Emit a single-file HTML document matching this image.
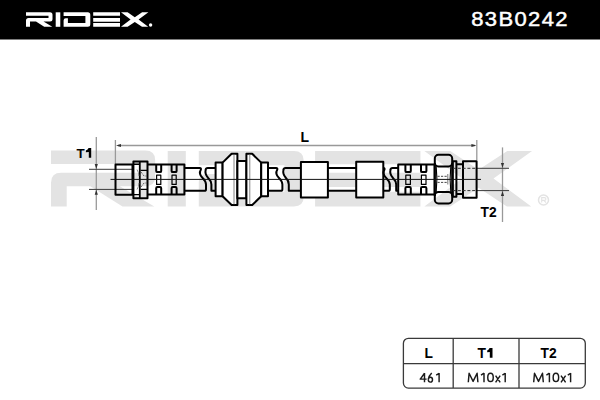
<!DOCTYPE html>
<html><head><meta charset="utf-8">
<style>
html,body{margin:0;padding:0;background:#fff;width:600px;height:400px;overflow:hidden}
svg{display:block}
text{font-family:"Liberation Sans",sans-serif}
</style></head>
<body>
<svg width="600" height="400" viewBox="0 0 600 400">
<defs>
<g id="logo">
<path d="M26,12.2 H50 Q52.5,12.2 52.5,14.7 V19 Q52.5,21.5 50,21.5 H43.5 L52.3,26.8 H44.2 L36,21.5 H30 V26.8 H26 V20.6 Q26,18 28.6,18 H48.5 V15.7 H26 Z"/>
<path d="M55.7,12.3 H60.3 V26.8 H55.7 Z"/>
<path d="M63.6,12.3 H87.8 Q90.3,12.3 90.3,14.8 V24.3 Q90.3,26.8 87.8,26.8 H63.6 V20.5 Q63.6,18.3 65.8,18.3 H67.9 V23 H85.4 V16 H63.6 Z"/>
<path d="M93.2,12.3 H120 V15.8 H93.2 Z M93.2,18 H120 V21.7 H93.2 Z M93.2,23 H120 V26.8 H93.2 Z"/>
<path d="M121,12.3 H127.6 L134.8,17.2 L142.1,12.3 H148.4 L138.6,19.5 L148.2,26.8 H142 L134.8,21.9 L127.6,26.8 H121 L130.6,19.5 Z"/>
</g>
</defs>
<!-- header -->
<rect x="0" y="0" width="600" height="39.5" fill="#000"/>
<use href="#logo" fill="#fff"/>
<circle cx="150.6" cy="25" r="1.7" fill="#fff"/>
<text transform="translate(471.2,0) scale(1.13,1)" x="0" y="26.35" font-size="19.5" fill="#fff" stroke="#fff" stroke-width="0.45" letter-spacing="1.2">83B0242</text>

<!-- watermark -->
<g transform="translate(51,151) scale(3.93,3.82) translate(-26,-12.3)" fill="#e3e3e3"><use href="#logo"/></g>
<circle cx="543.5" cy="200" r="5" fill="none" stroke="#e3e3e3" stroke-width="1.5"/>
<path d="M541.7,202.6 V197.6 H544.4 Q545.9,197.6 545.9,199 Q545.9,200.4 544.4,200.4 H541.7 M543.9,200.4 L546,202.6" fill="none" stroke="#e3e3e3" stroke-width="1.1"/>

<!-- dimension lines -->
<g stroke="#999" stroke-width="1.3" fill="none">
<line x1="118" y1="145.5" x2="475" y2="145.5"/>
<line x1="115.4" y1="140" x2="115.4" y2="164"/>
<line x1="476.8" y1="140" x2="476.8" y2="160"/>
<line x1="96.3" y1="137" x2="96.3" y2="210"/>
<line x1="502.5" y1="147.4" x2="502.5" y2="222"/>
</g>
<g stroke="#3a3a3a" stroke-width="1" fill="none">
<line x1="89" y1="169.3" x2="132" y2="169.3"/>
<line x1="89" y1="189.4" x2="132" y2="189.4"/>
<line x1="477" y1="168.3" x2="509" y2="168.3"/>
<line x1="477" y1="190.6" x2="509" y2="190.6"/>
</g>
<g fill="#333">
<path d="M116,145.5 L121,143.9 L121,147.1 Z"/>
<path d="M476.4,145.5 L471.4,143.9 L471.4,147.1 Z"/>
<path d="M96.3,169 L94.7,164 L97.9,164 Z"/>
<path d="M96.3,189.7 L94.7,194.7 L97.9,194.7 Z"/>
<path d="M502.5,168 L500.9,163 L504.1,163 Z"/>
<path d="M502.5,190.9 L500.9,195.9 L504.1,195.9 Z"/>
</g>
<text x="300.5" y="141.7" font-size="14" font-weight="bold" fill="#000">L</text>
<text x="76.6" y="157.8" font-size="13.4" font-weight="bold" fill="#000">T</text><path d="M88.60,148.10 H91.20 V157.80 H88.80 V152.10 L85.90,152.20 V150.40 Q87.90,149.70 88.60,148.10 Z" fill="#000"/>
<text x="480.6" y="217.2" font-size="13.8" font-weight="bold" fill="#000">T2</text>
<g stroke="#000" stroke-width="2" fill="none" stroke-linejoin="round">
<rect x="115.5" y="164.5" width="17" height="30.2"/>
<path d="M140.6,161.4 H147.2 V170.2 H140.6 Z M140.6,189.4 H147.2 V197.3 H140.6 Z" fill="#e3e3e3" stroke="none"/>
<rect x="133.4" y="161.4" width="14.1" height="36.9"/>
<line x1="139.8" y1="161.4" x2="139.8" y2="198.3" stroke-width="1.8"/>
<path d="M133.4,164.2 H139 M133.4,194.6 H139" stroke-width="1.4"/>
<path d="M140.6,170.3 H147 M140.6,189.3 H147" stroke-width="1.3"/>
<path d="M137,169.5 Q138.8,172 138.8,176 M137,189.5 Q138.8,187 138.8,183" stroke="#888" stroke-width="0.9"/>
<path d="M141,172 L144,176 H147 M141,187 L144,183 H147" stroke="#555" stroke-width="0.9" stroke-dasharray="2,1.2"/>
<path d="M147.2,164.5 H184.4 V194.6 H147.2"/>
<path d="M156.2,164.5 V170.9 Q156.2,172.1 157.39999999999998,172.1 H160.0 Q161.2,172.1 161.2,170.9 V164.5" stroke-width="2"/>
<path d="M156.2,194.6 V188.2 Q156.2,187.0 157.39999999999998,187.0 H160.0 Q161.2,187.0 161.2,188.2 V194.6" stroke-width="2"/>
<rect x="156.6" y="175.2" width="4.2" height="9.2" stroke-width="1.2"/>
<path d="M171.6,164.5 V170.9 Q171.6,172.1 172.79999999999998,172.1 H175.4 Q176.6,172.1 176.6,170.9 V164.5" stroke-width="2"/>
<path d="M171.6,194.6 V188.2 Q171.6,187.0 172.79999999999998,187.0 H175.4 Q176.6,187.0 176.6,188.2 V194.6" stroke-width="2"/>
<rect x="172.0" y="175.2" width="4.2" height="9.2" stroke-width="1.2"/>
<path d="M184.4,168.0 H199.80 Q201.20,168.0 200.90,169.60 C199.40,172.20 199.60,175.20 202.60,178.00 C205.20,180.60 206.00,181.60 206.00,184.50 V189.20 Q206.00,190.8 204.40,190.8 H184.4"/>
<path d="M215.3,168.0 H207.80 Q205.80,168.0 205.70,169.80 C205.00,172.40 205.80,175.40 208.20,178.00 C210.80,180.60 211.40,181.60 211.40,184.50 V190.8 H215.3"/>
<path d="M215.6,162.6 H222.6 V196.2 H215.6 Z" fill="#fff"/>
<path d="M222.6,162.6 L231.6,153.8 H237.4 V205 H231.6 L222.6,196.2 Z" fill="#fff"/>
<path d="M237.4,160.9 H246.4 V198.2 H237.4 Z" fill="#fff"/>
<path d="M255.4,162.6 L246.4,153.8 H252.2 V205 H246.4 Z" fill="none" stroke="none"/>
<path d="M246.4,153.8 H252.2 L261.2,162.6 V196.2 L252.2,205 H246.4 Z" fill="#fff"/>
<path d="M261.2,162.6 H268 V196.2 H261.2 Z" fill="#fff"/>
<path d="M234,154.5 V204.3 M249.8,154.5 V204.3" stroke="#777" stroke-width="0.9"/>
<path d="M268,168.0 H276.20 Q277.60,168.0 277.30,169.60 C275.80,172.20 276.00,175.20 279.00,178.00 C281.60,180.60 282.40,181.60 282.40,184.50 V189.20 Q282.40,190.8 280.80,190.8 H268"/>
<path d="M300.3,168.0 H285.60 Q283.60,168.0 283.50,169.80 C282.80,172.40 283.60,175.40 286.00,178.00 C288.60,180.60 288.80,181.60 288.80,184.50 V190.8 H300.3"/>
<rect x="300.9" y="162" width="27" height="35.4" fill="#fff"/>
<path d="M328,168 H356.2 M328,190.8 H356.2"/>
<rect x="356.2" y="161.8" width="27.1" height="35.6" fill="#fff"/>
<path d="M383.3,168.0 H383.40 Q384.80,168.0 384.50,169.60 C383.00,172.20 383.20,175.20 386.20,178.00 C388.80,180.60 389.80,181.60 389.80,184.50 V189.20 Q389.80,190.8 388.20,190.8 H383.3"/>
<path d="M398,168.0 H392.60 Q390.60,168.0 390.50,169.80 C389.80,172.40 390.60,175.40 393.00,178.00 C395.60,180.60 396.20,181.60 396.20,184.50 V190.8 H398"/>
<path d="M398.2,164.5 H434.6 V194.6 H398.2 Z"/>
<path d="M405.4,164.5 V170.9 Q405.4,172.1 406.59999999999997,172.1 H409.59999999999997 Q410.79999999999995,172.1 410.79999999999995,170.9 V164.5" stroke-width="2"/>
<path d="M405.4,194.6 V188.2 Q405.4,187.0 406.59999999999997,187.0 H409.59999999999997 Q410.79999999999995,187.0 410.79999999999995,188.2 V194.6" stroke-width="2"/>
<rect x="405.79999999999995" y="175.2" width="4.6000000000000005" height="9.2" stroke-width="1.2"/>
<path d="M421.0,164.5 V170.9 Q421.0,172.1 422.2,172.1 H425.2 Q426.4,172.1 426.4,170.9 V164.5" stroke-width="2"/>
<path d="M421.0,194.6 V188.2 Q421.0,187.0 422.2,187.0 H425.2 Q426.4,187.0 426.4,188.2 V194.6" stroke-width="2"/>
<rect x="421.4" y="175.2" width="4.6000000000000005" height="9.2" stroke-width="1.2"/>
<rect x="434.8" y="154.8" width="17.4" height="11.6" rx="3.6"/>
<path d="M434.8,163 V196 M452.2,163 V196"/>
<path d="M436.2,166.4 Q437.6,179.2 436.2,192 M450.8,166.4 Q449.4,179.2 450.8,192" stroke-width="1.1"/>
<rect x="434.8" y="192" width="17.4" height="11.4" rx="3.6"/>
<path d="M437.5,176.3 H447.6 M437.5,182.4 H447.6" stroke="#333" stroke-width="0.9" stroke-dasharray="2.2,1.3"/>
<path d="M447.8,174 V184.5" stroke="#555" stroke-width="0.8"/>
<rect x="452.8" y="161.2" width="3.6" height="35.6"/>
<path d="M452.6,161.2 V196.8" stroke-width="1"/>
<path d="M456.4,164.3 H462.5 M456.4,194 H462.5"/>
<rect x="463" y="161.2" width="13.6" height="36.6"/>
</g>
<path d="M453,168.3 H476 M453,190.6 H476" stroke="#333" stroke-width="1" stroke-dasharray="3,1.8"/>
<line x1="110.5" y1="179.4" x2="481" y2="179.4" stroke="#111" stroke-width="1"/>
<!-- table -->
<g fill="none" stroke="#3a3a3a" stroke-width="1.3">
<rect x="403.4" y="338.3" width="181.9" height="49.8" rx="5"/>
<line x1="403.4" y1="363.6" x2="585.3" y2="363.6"/>
<line x1="453.2" y1="338.3" x2="453.2" y2="388.1"/>
<line x1="519" y1="338.3" x2="519" y2="388.1"/>
</g>
<g fill="#000">
<text x="424.6" y="357.7" font-size="13.8" font-weight="bold">L</text>
<text x="477.6" y="357.7" font-size="13.8" font-weight="bold">T</text><path d="M489.60,348.10 H492.50 V357.70 H489.80 V352.10 L487.20,352.20 V350.40 Q488.90,349.70 489.60,348.10 Z" fill="#000"/>
<text x="540.6" y="357.7" font-size="13.8" font-weight="bold">T2</text>
<path d="M419.6,379.1 H426.6 M420.3,379.1 L424.5,373.3 M424.5,373 V382.3 M430.4,377.2 C428.9,377.2 428.3,378.4 428.3,379.8 C428.3,381.1 429.1,382.1 430.4,382.1 C431.7,382.1 432.5,381.1 432.5,379.7 C432.5,378.3 431.6,377.2 430.4,377.2 Z M431.7,373.1 C430,374.8 428.6,376.6 428.3,379.4 M439.1,373 V382.3 M439.1,373.3 L436.2,375.1" fill="none" stroke="#1a1a1a" stroke-width="1.45" stroke-linejoin="round"/><path d="M468.30,382.30 L469.10,373.23 L473.10,381.40 L477.10,373.23 L477.90,382.30 M484.00,373.03 V382.30 M484.00,373.23 L481.00,375.12 M490.50,373.23 C486.84,373.23 486.84,381.57 490.50,381.57 C494.16,381.57 494.16,373.23 490.50,373.23 Z M495.60,375.70 L500.20,382.30 M500.20,375.70 L495.60,382.30 M505.20,373.03 V382.30 M505.20,373.23 L502.40,375.12" fill="none" stroke="#1a1a1a" stroke-width="1.45" stroke-linejoin="round"/><path d="M533.70,382.30 L534.50,373.23 L538.50,381.40 L542.50,373.23 L543.30,382.30 M549.40,373.03 V382.30 M549.40,373.23 L546.40,375.12 M555.90,373.23 C552.24,373.23 552.24,381.57 555.90,381.57 C559.56,381.57 559.56,373.23 555.90,373.23 Z M561.00,375.70 L565.60,382.30 M565.60,375.70 L561.00,382.30 M570.60,373.03 V382.30 M570.60,373.23 L567.80,375.12" fill="none" stroke="#1a1a1a" stroke-width="1.45" stroke-linejoin="round"/>
</g>
</svg>
</body></html>
